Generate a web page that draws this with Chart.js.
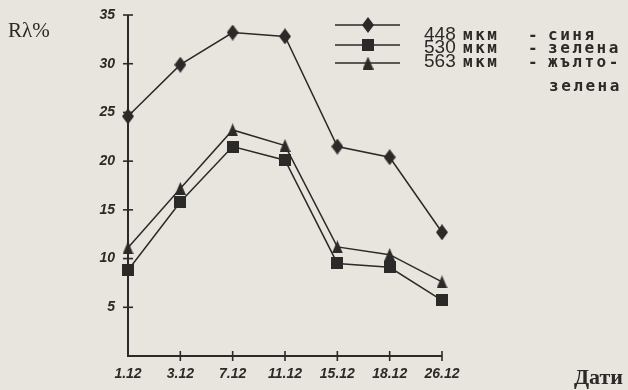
<!DOCTYPE html>
<html>
<head>
<meta charset="utf-8">
<script src="https://cdn.jsdelivr.net/npm/chart.js@4"></script>
<style>
  html, body { margin: 0; padding: 0; background: #e8e5de; }
  canvas { display: block; }
</style>
</head>
<body>
<canvas id="c" width="628" height="390"></canvas>
<script>
// Dates of measurement
const dates = ['1.12', '3.12', '7.12', '11.12', '15.12', '18.12', '26.12'];
// Reflectance R, % at three wavelengths
const r448 = [24.6, 29.9, 33.2, 32.8, 21.5, 20.4, 12.7];
const r530 = [8.8, 15.8, 21.5, 20.1, 9.5, 9.1, 5.7];
const r563 = [11.1, 17.2, 23.2, 21.6, 11.2, 10.4, 7.6];
// Y axis ticks
const yTicks = [5, 10, 15, 20, 25, 30, 35];
// Legend rows
const legendWave = ['448', '530', '563'];
const legendUnit = 'мкм';
const legendColour = [['синя'], ['зелена'], ['жълто-', 'зелена']];

const INK = '#2b2a28';
const PAPER = '#e8e5de';
const TICK_FONT = '"Liberation Sans Narrow", "Liberation Sans", sans-serif';

function marker(shape, w, h) {
  const c = document.createElement('canvas');
  c.width = w; c.height = h;
  const g = c.getContext('2d');
  g.fillStyle = INK;
  g.beginPath();
  if (shape === 'diamond') {
    g.moveTo(w / 2, 0); g.lineTo(w, h / 2); g.lineTo(w / 2, h); g.lineTo(0, h / 2);
  } else if (shape === 'square') {
    g.rect(0, 0, w, h);
  } else {
    g.moveTo(w / 2, 0); g.lineTo(w, h); g.lineTo(0, h);
  }
  g.closePath();
  g.fill();
  return c;
}
const mDiamond = marker('diamond', 12, 16);
const mSquare = marker('square', 12, 12);
const mTriangle = marker('triangle', 11, 13);

const paper = {
  id: 'paper',
  beforeDraw(chart) {
    const ctx = chart.ctx;
    ctx.save();
    ctx.fillStyle = PAPER;
    ctx.fillRect(0, 0, chart.width, chart.height);
    ctx.restore();
  }
};

// Axis lines with crossing tick marks, titles and the legend block
const decor = {
  id: 'decor',
  beforeDatasetsDraw(chart) {
    const ctx = chart.ctx;
    const xs = chart.scales.x, ys = chart.scales.y;
    const x0 = xs.getPixelForValue(0);
    const xEnd = xs.getPixelForValue(dates.length - 1);
    const yTop = ys.getPixelForValue(35);
    const yBot = ys.getPixelForValue(0);
    ctx.save();
    ctx.strokeStyle = INK;
    ctx.lineWidth = 2;
    ctx.beginPath();
    ctx.moveTo(x0, yTop); ctx.lineTo(x0, yBot); ctx.lineTo(xEnd, yBot);
    ctx.stroke();
    ctx.lineWidth = 1.6;
    yTicks.forEach(v => {
      const y = ys.getPixelForValue(v);
      ctx.beginPath(); ctx.moveTo(x0 - 5, y); ctx.lineTo(x0 + 5, y); ctx.stroke();
    });
    for (let i = 1; i < dates.length; i++) {
      const x = xs.getPixelForValue(i);
      ctx.beginPath(); ctx.moveTo(x, yBot - 5); ctx.lineTo(x, yBot + 5); ctx.stroke();
    }
    ctx.restore();
  },
  afterDraw(chart) {
    const ctx = chart.ctx;
    ctx.save();
    ctx.fillStyle = INK;
    ctx.textBaseline = 'alphabetic';
    // axis titles
    ctx.font = '21px "Liberation Serif"';
    ctx.fillText('Rλ%', 8, 37);
    ctx.font = 'bold 22px "Liberation Serif"';
    ctx.textAlign = 'right';
    ctx.fillText('Дати', 623, 384);
    ctx.textAlign = 'left';

    // legend symbols
    const marks = [mDiamond, mSquare, mTriangle];
    const lineY = [25, 45, 63];
    ctx.strokeStyle = INK;
    ctx.lineWidth = 1.5;
    lineY.forEach((y, i) => {
      ctx.beginPath(); ctx.moveTo(335, y); ctx.lineTo(400, y); ctx.stroke();
      const m = marks[i];
      ctx.drawImage(m, 368 - m.width / 2, y - m.height / 2);
    });
    // legend text
    const base = [40, 53, 67];
    base.forEach((y, i) => {
      ctx.letterSpacing = '0px';
      ctx.font = '19px "Liberation Sans"';
      ctx.fillText(legendWave[i], 424, y);
      ctx.letterSpacing = '2.5px';
      ctx.font = 'bold 16px "DejaVu Sans Mono"';
      ctx.fillText(legendUnit, 463, y);
      ctx.fillText('-', 528, y);
      ctx.fillText(legendColour[i][0], 548, y);
    });
    ctx.fillText(legendColour[2][1], 549, 91);
    ctx.restore();
  }
};

const lineCommon = {
  borderColor: INK,
  borderWidth: 1.5,
  tension: 0,
  fill: false,
  pointRadius: 7,
  pointHoverRadius: 7
};

new Chart(document.getElementById('c'), {
  type: 'line',
  data: {
    labels: dates,
    datasets: [
      Object.assign({ label: '448 мкм - синя', data: r448, pointStyle: mDiamond }, lineCommon),
      Object.assign({ label: '530 мкм - зелена', data: r530, pointStyle: mSquare }, lineCommon),
      Object.assign({ label: '563 мкм - жълто-зелена', data: r563, pointStyle: mTriangle }, lineCommon)
    ]
  },
  options: {
    responsive: false,
    animation: false,
    devicePixelRatio: 1,
    layout: { padding: { left: 0, right: 186, top: 15, bottom: 0 } },
    plugins: { legend: { display: false }, tooltip: { enabled: false } },
    scales: {
      x: {
        offset: false,
        grid: { display: false, drawTicks: false },
        border: { display: false },
        ticks: {
          color: INK,
          padding: 10,
          maxRotation: 0,
          autoSkip: false,
          font: { family: TICK_FONT, style: 'italic', weight: 'bold', size: 14 }
        },
        afterFit(s) { s.height = 34; s.paddingLeft = 0; s.paddingRight = 0; }
      },
      y: {
        min: 0,
        max: 35,
        grid: { display: false, drawTicks: false },
        border: { display: false },
        ticks: {
          stepSize: 5,
          color: INK,
          padding: 13,
          font: { family: TICK_FONT, style: 'italic', weight: 'bold', size: 14 },
          callback: v => (yTicks.includes(v) ? String(v) : '')
        },
        afterFit(s) { s.width = 128; s.paddingTop = 0; s.paddingBottom = 0; }
      }
    }
  },
  plugins: [paper, decor]
});
</script>
</body>
</html>
